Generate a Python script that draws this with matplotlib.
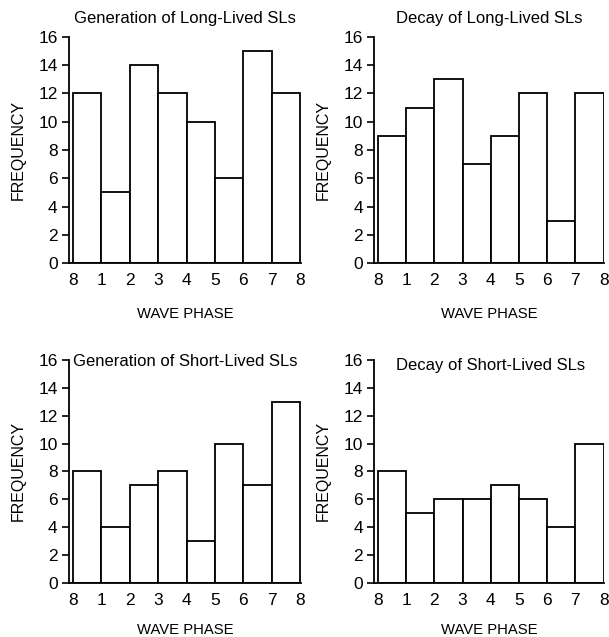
import matplotlib
matplotlib.use("Agg")
import numpy as np
import matplotlib.pyplot as plt

plt.rcParams['font.family'] = ['Liberation Sans', 'DejaVu Sans']

# 位相ラベル（8 は 0 と同じ位相）
phase_labels = ["8", "1", "2", "3", "4", "5", "6", "7", "8"]

# 各パネルの度数
gen_long = [12, 5, 14, 12, 10, 6, 15, 12]
decay_long = [9, 11, 13, 7, 9, 12, 3, 12]
gen_short = [8, 4, 7, 8, 3, 10, 7, 13]
decay_short = [8, 5, 6, 6, 7, 6, 4, 10]

titles = ["Generation of Long-Lived SLs", "Decay of Long-Lived SLs",
          "Generation of Short-Lived SLs", "Decay of Short-Lived SLs"]
series = [gen_long, decay_long, gen_short, decay_short]

fig = plt.figure(figsize=(6.09, 6.37), dpi=100)

# [left, bottom, width, height]
boxes = [[0.113, 0.587, 0.381, 0.355],
         [0.614, 0.587, 0.378, 0.355],
         [0.113, 0.085, 0.381, 0.350],
         [0.614, 0.085, 0.378, 0.350]]

for k in range(4):
    ax = fig.add_axes(boxes[k])
    vals = series[k]
    x = np.arange(len(vals))
    ax.bar(x, vals, width=1.0, align='edge', color='white',
           edgecolor='black', linewidth=1.3)
    ax.set_xlim(-0.14, 8.02)
    ax.set_ylim(0, 16)
    ax.set_yticks(np.arange(0, 17, 2))
    ax.set_xticks(np.arange(len(phase_labels)))
    ax.set_xticklabels(phase_labels)
    ax.tick_params(axis='x', length=0, pad=7, labelsize=12.5)
    ax.tick_params(axis='y', direction='out', length=5, width=1.2, labelsize=12.5, pad=3)
    ax.spines['top'].set_visible(False)
    ax.spines['right'].set_visible(False)
    ax.spines['left'].set_linewidth(1.3)
    ax.spines['bottom'].set_linewidth(1.3)
    ax.set_xlabel("WAVE PHASE", fontsize=10.7, labelpad=14 if k < 2 else 11)
    ax.set_ylabel("FREQUENCY", fontsize=11.5, labelpad=9)
    if k < 2:
        ax.set_title(titles[k], fontsize=12, pad=10)
    elif k == 2:
        ax.text(0.02, 15.9, titles[k], fontsize=12, va='center', ha='left')
    else:
        ax.text(0.65, 15.6, titles[k], fontsize=12, va='center', ha='left')

plt.savefig('out.png', dpi=100)
